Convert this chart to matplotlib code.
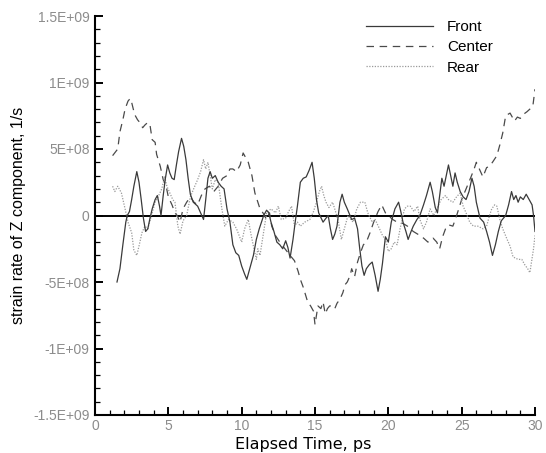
import matplotlib
matplotlib.use("Agg")
import matplotlib.pyplot as plt
import numpy as np
from matplotlib.ticker import MultipleLocator, FixedLocator

plt.rcParams['font.family'] = ['Liberation Sans', 'DejaVu Sans']

# ---- data (values in units of 1E+09 1/s) ----
front_t = [1.5, 1.7, 1.9, 2.1, 2.2, 2.35, 2.5, 2.65, 2.85, 3.0, 3.15, 3.3, 3.45, 3.6, 3.75, 3.9,
           4.1, 4.25, 4.4, 4.5, 4.65, 4.8, 4.95, 5.1, 5.25, 5.4, 5.55, 5.7, 5.9, 6.05, 6.2, 6.35,
           6.5, 6.7, 7.0, 7.2, 7.4, 7.55, 7.7, 7.85, 8.0, 8.2, 8.4, 8.6, 8.8, 9.0, 9.2, 9.4, 9.6,
           9.8, 10.0, 10.2, 10.35, 10.6, 10.8, 11.0, 11.2, 11.5, 11.7, 11.85, 12.0, 12.2, 12.4,
           12.6, 12.8, 13.0, 13.15, 13.3, 13.5, 13.65, 13.8, 14.0, 14.2, 14.4, 14.6, 14.8, 14.95,
           15.1, 15.25, 15.55, 15.75, 15.9, 16.05, 16.2, 16.35, 16.5, 16.7, 16.85, 17.0, 17.2,
           17.5, 17.7, 17.9, 18.05, 18.2, 18.35, 18.5, 18.7, 18.9, 19.1, 19.3, 19.45, 19.6, 19.8,
           20.0, 20.2, 20.45, 20.7, 20.85, 21.0, 21.2, 21.35, 21.55, 21.7, 21.95, 22.15, 22.4,
           22.6, 22.85, 23.0, 23.2, 23.35, 23.5, 23.65, 23.8, 23.95, 24.1, 24.25, 24.4, 24.55,
           24.7, 24.9, 25.1, 25.3, 25.5, 25.7, 25.85, 26.0, 26.25, 26.5, 26.7, 26.9, 27.1, 27.3,
           27.5, 27.7, 28.0, 28.2, 28.4, 28.55, 28.7, 28.85, 29.0, 29.2, 29.4, 29.6, 29.8, 29.9, 30.0]
front_v = [-0.50, -0.40, -0.22, -0.05, 0.0, 0.03, 0.12, 0.22, 0.33, 0.25, 0.12, -0.02, -0.12, -0.10,
           -0.02, 0.05, 0.12, 0.15, 0.07, 0.0, 0.15, 0.28, 0.38, 0.32, 0.28, 0.27, 0.38, 0.48, 0.58,
           0.52, 0.42, 0.28, 0.16, 0.10, 0.07, 0.02, -0.03, 0.12, 0.28, 0.33, 0.28, 0.30, 0.25, 0.22,
           0.20, 0.05, -0.05, -0.22, -0.28, -0.30, -0.38, -0.44, -0.48, -0.38, -0.30, -0.18, -0.10,
           0.0, 0.04, 0.02, -0.05, -0.12, -0.20, -0.22, -0.25, -0.19, -0.24, -0.32, -0.18, -0.05,
           0.07, 0.25, 0.28, 0.29, 0.34, 0.40, 0.28, 0.12, 0.02, -0.05, -0.02, 0.0, -0.10, -0.18,
           -0.14, -0.08, 0.10, 0.16, 0.10, 0.05, -0.03, -0.02, -0.10, -0.25, -0.38, -0.45, -0.40,
           -0.37, -0.35, -0.45, -0.57, -0.48, -0.36, -0.16, -0.20, -0.05, 0.05, 0.10, 0.03, -0.05,
           -0.12, -0.18, -0.12, -0.08, -0.03, 0.0, 0.08, 0.15, 0.25, 0.18, 0.06, 0.02, 0.15, 0.28,
           0.22, 0.30, 0.38, 0.30, 0.22, 0.32, 0.25, 0.18, 0.14, 0.12, 0.18, 0.28, 0.22, 0.10, -0.02,
           -0.05, -0.12, -0.20, -0.30, -0.22, -0.12, -0.04, 0.0, 0.08, 0.18, 0.12, 0.15, 0.10, 0.14,
           0.12, 0.16, 0.12, 0.08, 0.0, -0.12]

center_t = [1.2, 1.55, 1.7, 1.9, 2.05, 2.25, 2.4, 2.5, 2.7, 2.9, 3.05, 3.25, 3.4, 3.6, 3.75, 3.9,
            4.1, 4.2, 4.45, 4.65, 4.85, 5.0, 5.25, 5.45, 5.6, 5.8, 6.0, 6.25, 6.5, 6.75, 7.0, 7.25,
            7.5, 7.8, 8.1, 8.4, 8.7, 9.0, 9.2, 9.4, 9.65, 9.9, 10.1, 10.3, 10.45, 10.7, 10.9, 11.1,
            11.25, 11.45, 11.7, 11.9, 12.05, 12.3, 12.6, 12.95, 13.3, 13.6, 13.85, 14.0, 14.2, 14.5,
            14.7, 14.9, 15.0, 15.2, 15.4, 15.55, 15.7, 15.85, 16.0, 16.2, 16.35, 16.5, 16.7, 16.9,
            17.05, 17.2, 17.4, 17.5, 17.7, 17.9, 18.1, 18.3, 18.5, 18.75, 19.0, 19.3, 19.55, 19.8,
            20.0, 20.3, 20.6, 21.0, 21.3, 21.7, 22.0, 22.4, 22.7, 23.05, 23.3, 23.5, 23.7, 23.9,
            24.1, 24.4, 24.6, 24.8, 25.0, 25.3, 25.6, 25.85, 26.0, 26.25, 26.45, 26.7, 26.9, 27.1,
            27.4, 27.6, 27.8, 28.0, 28.3, 28.6, 28.8, 29.0, 29.2, 29.45, 29.65, 29.85, 30.0]
center_v = [0.45, 0.50, 0.63, 0.72, 0.80, 0.86, 0.88, 0.85, 0.76, 0.72, 0.70, 0.66, 0.68, 0.70,
            0.68, 0.57, 0.55, 0.46, 0.37, 0.27, 0.22, 0.14, 0.08, 0.02, 0.0, -0.05, 0.05, 0.10,
            0.14, 0.10, 0.08, 0.15, 0.20, 0.22, 0.18, 0.22, 0.28, 0.30, 0.35, 0.35, 0.33, 0.38,
            0.47, 0.43, 0.40, 0.30, 0.17, 0.10, 0.05, 0.02, -0.03, 0.02, -0.08, -0.15, -0.20,
            -0.25, -0.30, -0.34, -0.42, -0.48, -0.54, -0.65, -0.68, -0.72, -0.82, -0.68, -0.70,
            -0.65, -0.74, -0.70, -0.68, -0.68, -0.70, -0.66, -0.63, -0.58, -0.52, -0.50, -0.45,
            -0.40, -0.46, -0.35, -0.28, -0.22, -0.20, -0.13, -0.05, 0.03, 0.08, 0.02, 0.0, -0.03,
            -0.05, -0.06, -0.08, -0.12, -0.14, -0.17, -0.20, -0.17, -0.20, -0.25, -0.16, -0.10,
            -0.07, -0.08, -0.02, 0.05, 0.12, 0.20, 0.28, 0.35, 0.40, 0.34, 0.29, 0.36, 0.37, 0.40,
            0.45, 0.53, 0.62, 0.75, 0.77, 0.71, 0.74, 0.73, 0.76, 0.78, 0.80, 0.82, 0.95]

rear_t = [1.2, 1.35, 1.55, 1.8, 2.05, 2.25, 2.5, 2.65, 2.85, 3.0, 3.2, 3.4, 3.6, 3.9, 4.1, 4.3,
          4.55, 4.75, 4.9, 5.1, 5.3, 5.45, 5.65, 5.8, 6.0, 6.25, 6.5, 6.8, 7.0, 7.2, 7.4, 7.55,
          7.7, 7.85, 8.0, 8.2, 8.4, 8.65, 8.85, 9.1, 9.4, 9.65, 10.0, 10.2, 10.45, 10.65, 10.8,
          11.0, 11.1, 11.25, 11.45, 11.7, 12.0, 12.3, 12.5, 12.7, 13.0, 13.2, 13.4, 13.6, 13.8,
          14.0, 14.3, 14.65, 14.9, 15.1, 15.3, 15.45, 15.6, 15.75, 15.95, 16.2, 16.4, 16.6, 16.8,
          17.0, 17.25, 17.45, 17.6, 17.85, 18.1, 18.4, 18.6, 18.9, 19.1, 19.4, 19.6, 19.8, 20.0,
          20.2, 20.4, 20.6, 20.8, 21.1, 21.3, 21.5, 21.75, 22.0, 22.15, 22.4, 22.6, 22.85, 23.1,
          23.3, 23.6, 23.9, 24.1, 24.4, 24.65, 24.9, 25.1, 25.3, 25.55, 25.8, 26.1, 26.45, 26.7,
          26.9, 27.05, 27.25, 27.4, 27.6, 27.8, 28.1, 28.3, 28.5, 28.65, 28.85, 29.1, 29.3, 29.5,
          29.65, 29.8, 29.9, 30.0]
rear_v = [0.22, 0.18, 0.22, 0.17, 0.05, -0.05, -0.13, -0.26, -0.30, -0.23, -0.13, -0.08, -0.10,
          0.02, 0.10, 0.14, 0.20, 0.29, 0.22, 0.17, 0.12, 0.10, -0.08, -0.14, -0.04, 0.0, 0.14,
          0.22, 0.27, 0.33, 0.42, 0.35, 0.40, 0.30, 0.20, 0.27, 0.25, 0.05, -0.08, -0.03, -0.05,
          -0.10, -0.20, -0.10, -0.03, -0.15, -0.23, -0.33, -0.25, -0.30, -0.16, 0.02, 0.05, 0.02,
          0.07, -0.03, -0.02, 0.03, 0.07, -0.08, -0.05, -0.08, -0.05, -0.03, 0.03, 0.10, 0.18,
          0.22, 0.15, 0.10, 0.06, 0.10, 0.03, -0.05, -0.18, -0.10, 0.0, -0.03, -0.05, 0.05, 0.10,
          0.10, 0.02, -0.05, -0.03, -0.10, -0.15, -0.18, -0.27, -0.25, -0.20, -0.22, -0.10, 0.05,
          0.07, 0.07, 0.03, 0.07, -0.03, -0.10, -0.05, 0.05, 0.0, 0.05, 0.12, 0.15, 0.12, 0.10,
          0.14, 0.17, 0.07, 0.02, -0.05, -0.08, -0.08, -0.10, -0.08, 0.0, 0.05, 0.08, 0.07, -0.03,
          -0.10, -0.18, -0.23, -0.31, -0.32, -0.33, -0.33, -0.37, -0.40, -0.43, -0.32, -0.25, -0.15]

SCALE = 1e9
y_ticks = [-1.5e9, -1e9, -5e8, 0, 5e8, 1e9, 1.5e9]
y_tick_labels = ["-1.5E+09", "-1E+09", "-5E+08", "0", "5E+08", "1E+09", "1.5E+09"]
x_ticks = [0, 5, 10, 15, 20, 25, 30]

fig = plt.figure(figsize=(5.46, 4.53), dpi=100)
ax = fig.add_axes([95/546, 38/453, 440/546, 399/453])

ax.axhline(0, color="black", lw=1.4, zorder=1)
ax.plot(front_t, np.array(front_v) * SCALE, color="#3a3a3a", lw=0.9, ls="-", label="Front", zorder=3)
ax.plot(center_t, np.array(center_v) * SCALE, color="#4a4a4a", lw=0.9, dashes=(6, 4.5), label="Center", zorder=2)
ax.plot(rear_t, np.array(rear_v) * SCALE, color="#9a9a9a", lw=0.9, ls=(0, (1, 1.2)), label="Rear", zorder=2)

ax.set_xlim(0, 30)
ax.set_ylim(-1.5e9, 1.5e9)
ax.set_xticks(x_ticks)
ax.set_xticklabels([str(v) for v in x_ticks])
ax.yaxis.set_major_locator(FixedLocator(y_ticks))
ax.set_yticklabels(y_tick_labels)
ax.xaxis.set_minor_locator(MultipleLocator(1))
ax.yaxis.set_minor_locator(MultipleLocator(1e8))

for side in ("top", "right"):
    ax.spines[side].set_visible(False)
for side in ("left", "bottom"):
    ax.spines[side].set_linewidth(1.5)

ax.tick_params(which="major", direction="in", length=6, width=1.4, labelsize=10,
               labelcolor="#8c8c8c", pad=4)
ax.tick_params(axis="x", which="major", pad=3)
ax.tick_params(which="minor", direction="in", length=3.5, width=0.9)
ax.tick_params(axis="x", which="both", top=False)
ax.tick_params(axis="y", which="both", right=False)

ax.set_xlabel("Elapsed Time, ps", fontsize=11.5, family=["DejaVu Sans"])
ax.xaxis.set_label_coords(0.473, -0.056, transform=ax.transAxes)
ax.xaxis.label.set_verticalalignment("top")
ax.set_ylabel("strain rate of Z component, 1/s", fontsize=11.5, labelpad=5)

leg = ax.legend(loc="upper left", bbox_to_anchor=(366/546, 1 - 20/453), bbox_transform=fig.transFigure,
                frameon=False, fontsize=11, handlelength=4.4, handletextpad=0.9,
                borderpad=0, borderaxespad=0, labelspacing=0.42)

fig.savefig("out.png", dpi=100)
